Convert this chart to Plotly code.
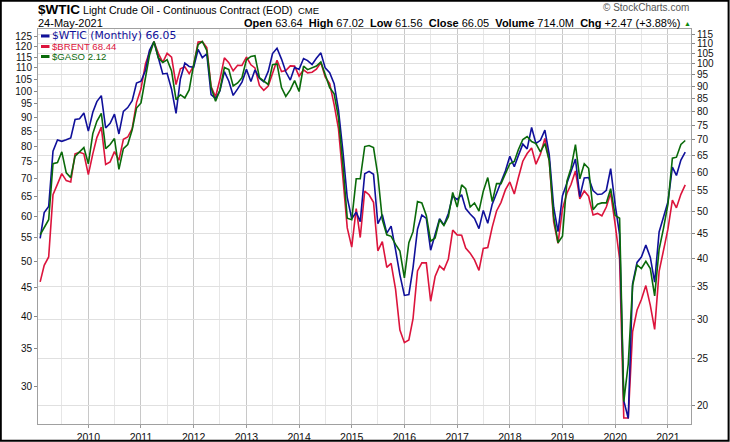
import math
import pandas as pd
import plotly.graph_objects as go

# Monthly closes, Feb 2009 .. May 2021
wtic = [44.0, 49.66, 51.12, 66.31, 69.89, 69.45, 69.96, 70.61, 77.00, 77.28, 79.36,
        72.89, 79.66, 83.76, 86.15, 73.97, 75.63, 78.95, 71.92, 79.97, 81.43, 84.11, 91.38,
        92.19, 96.97, 106.72, 111.0, 102.70, 95.42, 95.70, 88.81, 79.20, 93.19, 100.36, 98.83,
        98.48, 107.07, 103.02, 104.87, 86.53, 84.96, 88.06, 96.47, 92.19, 86.24, 88.91, 91.82,
        97.49, 92.05, 97.23, 93.46, 91.97, 96.56, 105.03, 107.65, 102.33, 96.38, 92.72, 98.42,
        97.49, 102.59, 101.58, 99.74, 102.71, 105.37, 98.17, 95.96, 91.16, 80.54, 66.15, 53.27,
        48.24, 49.76, 47.60, 59.63, 60.30, 59.47, 47.12, 49.20, 45.09, 46.59, 41.65, 37.04,
        33.62, 33.75, 38.34, 45.92, 49.10, 48.33, 41.60, 44.70, 48.24, 46.86, 49.44, 53.72,
        52.81, 54.01, 50.60, 49.33, 48.32, 46.04, 50.17, 47.23, 51.67, 54.38, 57.40, 60.42,
        64.73, 61.64, 64.94, 68.57, 67.04, 74.15, 68.76, 69.80, 73.25, 65.31, 50.93, 45.41,
        53.79, 57.22, 60.14, 63.91, 53.50, 58.47, 58.58, 55.10, 54.07, 54.18, 55.17, 61.06,
        51.56, 44.76, 20.48, 18.84, 35.49, 39.27, 40.27, 42.61, 40.22, 35.79, 45.34, 48.52,
        52.20, 61.50, 59.16, 63.58, 66.05]

brent = [46.0, 49.2, 50.9, 65.6, 68.5, 71.5, 69.5, 69.1, 77.5, 78.0, 77.5,
         71.2, 77.5, 82.8, 86.4, 74.2, 75.0, 78.2, 75.5, 82.2, 83.0, 85.9, 95.5,
         101.0, 111.8, 117.4, 122.4, 116.7, 112.5, 116.7, 114.9, 102.8, 109.6, 110.5, 107.4,
         111.0, 122.2, 122.4, 119.5, 101.9, 97.8, 104.9, 114.6, 112.4, 108.7, 111.2, 111.1,
         115.0, 111.4, 110.0, 102.4, 100.4, 102.2, 107.7, 113.5, 108.4, 108.8, 110.9, 110.8,
         106.4, 109.1, 107.8, 108.1, 109.4, 112.4, 106.0, 103.2, 94.7, 85.9, 70.2, 57.3,
         53.0, 62.0, 55.1, 66.6, 65.6, 63.6, 52.2, 54.2, 48.8, 49.6, 44.6, 37.8,
         35.9, 36.3, 39.6, 48.1, 49.7, 49.7, 42.5, 47.0, 49.1, 48.3, 50.5, 56.8,
         55.7, 55.6, 52.8, 51.7, 50.3, 48.2, 52.7, 52.9, 57.5, 61.4, 63.6, 66.9,
         69.1, 65.8, 70.3, 75.2, 77.6, 79.4, 74.3, 77.4, 82.5, 75.5, 58.7, 53.8,
         61.9, 66.0, 68.4, 72.3, 64.5, 66.6, 65.2, 60.4, 60.8, 60.2, 62.4, 66.0,
         58.2, 50.5, 26.4, 26.4, 37.5, 41.0, 42.8, 45.3, 41.8, 37.9, 48.0, 52.5,
         57.0, 64.2, 62.2, 65.7, 68.3]

gaso = [1.36, 1.41, 1.46, 1.90, 1.91, 2.01, 1.82, 1.78, 1.97, 2.01, 2.05,
        1.90, 2.19, 2.32, 2.41, 2.04, 2.08, 2.14, 1.85, 2.04, 2.08, 2.23, 2.47,
        2.53, 2.88, 3.17, 3.38, 3.13, 3.06, 3.10, 2.94, 2.57, 2.63, 2.59, 2.69,
        3.03, 3.33, 3.38, 3.24, 2.72, 2.55, 2.69, 2.99, 2.96, 2.74, 2.78, 2.85,
        3.10, 3.15, 3.16, 2.85, 2.81, 2.76, 3.03, 3.04, 2.72, 2.61, 2.69, 2.81,
        2.67, 3.01, 2.96, 2.99, 3.01, 3.07, 2.89, 2.72, 2.64, 2.36, 1.89, 1.47,
        1.46, 1.77, 1.77, 2.06, 2.07, 2.05, 1.80, 1.46, 1.36, 1.35, 1.30, 1.26,
        1.11, 1.31, 1.38, 1.59, 1.58, 1.49, 1.32, 1.34, 1.46, 1.42, 1.48, 1.66,
        1.55, 1.72, 1.69, 1.55, 1.58, 1.52, 1.67, 1.78, 1.59, 1.73, 1.73, 1.82,
        1.90, 1.92, 2.03, 2.13, 2.16, 2.11, 2.09, 2.01, 2.09, 1.93, 1.48, 1.31,
        1.35, 1.75, 1.86, 2.08, 1.77, 1.90, 1.86, 1.53, 1.57, 1.58, 1.58, 1.69,
        1.49, 1.47, 0.62, 0.74, 1.07, 1.18, 1.16, 1.20, 1.16, 1.02, 1.27, 1.40,
        1.57, 1.95, 1.96, 2.08, 2.12]

months = pd.date_range("2009-02-01", periods=len(wtic), freq="MS")

years = [str(y) for y in range(2010, 2022)]
year_ticks = [f"{y}-01-01" for y in years]
right_ticks = list(range(20, 120, 5))
left_ticks = list(range(30, 130, 5))

C_WTIC = "#10109a"
C_BRENT = "#dc143c"
C_GASO = "#0a6a0a"

L, R, T, B = 38, 691, 29, 424
W, H = 730, 442


def px(x):
    return (x - L) / (R - L)


def py(y):
    return (B - y) / (B - T)


fig = go.Figure()
fig.add_trace(go.Scatter(x=months, y=brent, mode="lines", yaxis="y",
                         line=dict(color=C_BRENT, width=1.6), showlegend=False))
fig.add_trace(go.Scatter(x=months, y=wtic, mode="lines", yaxis="y2",
                         line=dict(color=C_WTIC, width=1.6), showlegend=False))
fig.add_trace(go.Scatter(x=months, y=gaso, mode="lines", yaxis="y3",
                         line=dict(color=C_GASO, width=1.6), showlegend=False))

xfont = dict(family="Liberation Sans, Arial, sans-serif", size=10.5, color="#111")
yfont = dict(family="Liberation Sans, Arial, sans-serif", size=10, color="#111")

fig.update_layout(
    template="none",
    width=W, height=H, autosize=False,
    margin=dict(l=L, r=W - R, t=T, b=H - B, pad=0, autoexpand=False),
    paper_bgcolor="white", plot_bgcolor="white",
    xaxis=dict(
        type="date", range=["2009-01-17", "2021-06-10"], automargin=False,
        tickmode="array", tickvals=year_ticks, ticktext=years,
        tickfont=xfont, ticks="outside", ticklen=3, tickcolor="#999",
        showgrid=True, gridcolor="#c8c8c8", gridwidth=1,
        minor=dict(tick0="2009-07-01", dtick="M12", showgrid=True,
                   gridcolor="#e6e6e6", ticks=""),
        showline=True, linecolor="#a0a0a0", linewidth=1, mirror=True,
        zeroline=False,
    ),
    yaxis=dict(
        type="log", range=[math.log10(25.77), math.log10(128.9)], automargin=False,
        tickmode="array", tickvals=left_ticks, ticktext=[str(v) for v in left_ticks],
        tickfont=yfont, ticks="outside", ticklen=3, tickcolor="#888",
        showgrid=False, zeroline=False,
        showline=True, linecolor="#a0a0a0", linewidth=1,
    ),
    yaxis2=dict(
        type="log", range=[math.log10(18.35), math.log10(117.9)], automargin=False,
        overlaying="y", side="right", anchor="x",
        tickmode="array", tickvals=right_ticks, ticktext=[str(v) for v in right_ticks],
        tickfont=yfont, ticks="outside", ticklen=3, tickcolor="#888",
        showgrid=True, gridcolor="#e0e0e0", gridwidth=1, zeroline=False,
        showline=True, linecolor="#a0a0a0", linewidth=1,
    ),
    yaxis3=dict(
        type="log", range=[math.log10(0.5578), math.log10(3.584)],
        overlaying="y", visible=False, automargin=False,
    ),
)

ann = []
hdr = "Liberation Sans, Arial, sans-serif"
ann.append(dict(x=px(36), y=py(9.5), text="<b>$WTIC</b>", xanchor="left", yanchor="middle",
                font=dict(family=hdr, size=13.5, color="#000")))
ann.append(dict(x=px(81), y=py(10), text="Light Crude Oil - Continuous Contract (EOD)",
                xanchor="left", yanchor="middle", font=dict(family=hdr, size=10.6, color="#000")))
ann.append(dict(x=px(296), y=py(10.5), text="CME", xanchor="left", yanchor="middle",
                font=dict(family=hdr, size=9.5, color="#000")))
ann.append(dict(x=px(36), y=py(23), text="24-May-2021", xanchor="left", yanchor="middle",
                font=dict(family=hdr, size=11, color="#000")))
ann.append(dict(x=px(682), y=py(23),
                text="<b>Open</b> 63.64  <b>High</b> 67.02  <b>Low</b> 61.56  <b>Close</b> 66.05  "
                     "<b>Volume</b> 714.0M  <b>Chg</b> +2.47 (+3.88%)",
                xanchor="right", yanchor="middle", font=dict(family=hdr, size=11, color="#000")))
ann.append(dict(x=px(687), y=py(23.5), text="▲", xanchor="center", yanchor="middle",
                font=dict(family=hdr, size=7, color="#0a8a0a")))
ann.append(dict(x=px(691), y=py(8), text="© StockCharts.com", xanchor="right", yanchor="middle",
                font=dict(family=hdr, size=10, color="#555")))

leg = [("$WTIC (Monthly) 66.05", C_WTIC, 36.0, "DejaVu Sans", 10.8),
       ("$BRENT 68.44", C_BRENT, 46.5, hdr, 9.6),
       ("$GASO 2.12", C_GASO, 56.5, hdr, 9.6)]
shapes = []
for txt, col, yy, fam, sz in leg:
    ann.append(dict(x=px(50), y=py(yy), text=txt, xanchor="left", yanchor="middle",
                    font=dict(family=fam, size=sz, color=col)))
    shapes.append(dict(type="line", xref="paper", yref="paper",
                       x0=px(41), x1=px(49.5), y0=py(yy), y1=py(yy),
                       line=dict(color=col, width=3)))

for a in ann:
    a.update(xref="paper", yref="paper", showarrow=False)

shapes.append(dict(type="rect", xref="paper", yref="paper",
                   x0=px(0.8), x1=px(728.6), y0=py(440.8), y1=py(0.8),
                   line=dict(color="black", width=2), fillcolor="rgba(0,0,0,0)"))

fig.update_layout(annotations=ann, shapes=shapes)

fig.write_html("out.html", config={"displayModeBar": False},
               post_script="document.body.style.margin='0';document.body.style.overflow='hidden';")
